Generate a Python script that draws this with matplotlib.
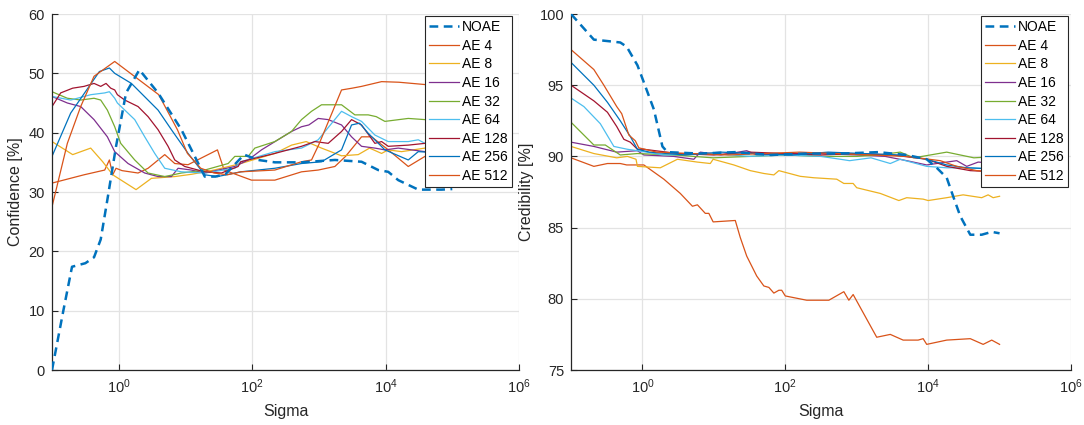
import numpy as np
import matplotlib
matplotlib.use("Agg")
import matplotlib.pyplot as plt
from matplotlib.ticker import NullLocator, FixedLocator

plt.rcParams['font.family'] = ['Liberation Sans', 'DejaVu Sans']
plt.rcParams['mathtext.default'] = 'regular'

labels = ["NOAE", "AE 4", "AE 8", "AE 16", "AE 32", "AE 64", "AE 128", "AE 256", "AE 512"]
colors = ["#0072BD", "#D95319", "#EDB120", "#7E2F8E", "#77AC30", "#4DBEEE", "#A2142F", "#0072BD", "#D95319"]

# ---- Confidence (left) : log10(sigma) and values ----
conf_noae_L = [-1, -0.83, -0.7, -0.5, -0.37, -0.27, -0.17, -0.04, 0.11, 0.31, 0.59, 0.94, 1.14, 1.29, 1.45, 1.6, 1.88, 2.09, 2.34, 2.74, 3.24, 3.64, 3.89, 4.04, 4.19, 4.49, 4.84, 5.0]
conf_noae = [0, 10, 17.4, 18, 19, 22, 28.7, 37.7, 46.7, 50.6, 46.7, 40.5, 36, 32.6, 32.6, 33.0, 36.3, 35.4, 35.0, 35.0, 35.4, 35.1, 33.7, 33.4, 32, 30.4, 30.4, 30.5]

conf_ae4_L = [-1, -0.52, -0.21, -0.14, -0.09, -0.04, 0.05, 0.29, 0.44, 0.69, 0.84, 1.04, 1.48, 1.58, 1.99, 2.34, 2.74, 2.99, 3.24, 3.4, 3.64, 3.79, 4.04, 4.34, 4.59, 5.0]
conf_ae4 = [31.5, 32.9, 33.7, 35.4, 32.9, 34, 33.6, 33.2, 34, 36.3, 34.8, 34.6, 37.1, 33.7, 32.0, 32.0, 33.4, 33.7, 34.3, 36, 39.3, 39.3, 37.1, 34.3, 36, 37]

conf_ae8_L = [-1, -0.69, -0.42, -0.24, -0.09, 0.26, 0.49, 0.84, 1.1, 1.43, 1.83, 2.34, 2.59, 2.81, 3.04, 3.34, 3.59, 3.76, 3.94, 4.04, 4.24, 4.59, 5.0]
conf_ae8 = [38.5, 36.3, 37.4, 35.1, 32.9, 30.4, 32.3, 32.6, 33.0, 33.7, 34.8, 36.5, 37.9, 38.5, 37.4, 36.1, 36.3, 37.4, 36.5, 37.1, 36.8, 37.4, 37.8]

conf_ae16_L = [-1, -0.77, -0.57, -0.37, -0.17, -0.06, 0.14, 0.39, 0.59, 0.79, 0.89, 1.09, 1.29, 1.74, 1.94, 2.14, 2.59, 2.74, 2.85, 2.99, 3.14, 3.34, 3.49, 3.64, 3.84, 3.99, 4.19, 4.59, 5.0]
conf_ae16 = [46.1, 45, 44.4, 42.2, 39.3, 36.8, 34.8, 33.2, 32.6, 32.6, 34, 33.7, 33.2, 34.3, 35.4, 37.1, 40.2, 41.0, 41.3, 42.4, 42.2, 41.3, 39.3, 37.7, 37.4, 37.1, 37.4, 36.8, 36.5]

conf_ae32_L = [-1, -0.77, -0.57, -0.37, -0.27, -0.17, -0.06, 0.03, 0.24, 0.44, 0.69, 0.94, 1.29, 1.64, 1.74, 1.94, 2.04, 2.34, 2.59, 2.74, 2.89, 3.04, 3.34, 3.54, 3.74, 3.86, 3.99, 4.34, 4.59, 5.0]
conf_ae32 = [46.9, 45.8, 45.5, 45.8, 45.5, 43.8, 41, 38.2, 35.4, 33.2, 32.6, 33.2, 33.7, 34.8, 36, 36, 37.4, 38.5, 40.2, 42.2, 43.6, 44.7, 44.7, 43, 43, 42.7, 41.9, 42.4, 42.2, 42.0]

conf_ae64_L = [-1, -0.72, -0.42, -0.21, -0.14, -0.06, -0.02, 0.24, 0.39, 0.54, 0.69, 0.94, 1.29, 1.74, 1.83, 2.34, 2.74, 2.99, 3.34, 3.49, 3.64, 3.84, 4.04, 4.34, 4.49, 4.59, 5.0]
conf_ae64 = [46.1, 45.5, 46.4, 46.7, 46.9, 45.8, 45, 42.2, 39.3, 36.5, 34, 33.4, 33.2, 34, 35.1, 36.8, 37.4, 38.8, 43.6, 42.7, 41.9, 39.6, 38.5, 38.5, 38.8, 38.2, 38.0]

conf_ae128_L = [-1, -0.87, -0.69, -0.52, -0.37, -0.27, -0.19, -0.12, -0.06, -0.02, 0.09, 0.29, 0.44, 0.59, 0.74, 0.84, 0.99, 1.29, 1.54, 1.79, 1.83, 2.34, 2.74, 2.94, 3.14, 3.34, 3.49, 3.64, 3.84, 3.94, 4.04, 4.34, 4.59, 5.0]
conf_ae128 = [44.4, 46.7, 47.5, 47.8, 48.3, 47.8, 48.3, 47.5, 47.2, 46.4, 45.5, 44.4, 42.7, 40.5, 37.7, 35.4, 34.3, 33.4, 33.2, 34.3, 35.1, 36.5, 37.7, 38.5, 38.2, 40.2, 42.2, 41.3, 38.2, 38.5, 37.7, 37.9, 38.2, 38.0]

conf_ae256_L = [-1, -0.72, -0.29, -0.14, -0.06, 0.19, 0.59, 0.79, 1.04, 1.29, 1.48, 1.83, 2.34, 2.74, 3.04, 3.34, 3.49, 3.61, 3.74, 3.99, 4.34, 4.49, 5.0]
conf_ae256 = [36, 43.3, 50.3, 50.9, 50, 48.3, 43.8, 40.5, 36.5, 32.9, 32.6, 33.4, 34, 34.8, 35.1, 37.1, 41.3, 41.6, 39.9, 37.1, 35.4, 36.8, 36.5]

conf_ae512_L = [-1, -0.77, -0.57, -0.37, -0.06, 0.6, 0.88, 1.03, 1.23, 1.43, 1.63, 1.83, 2.34, 2.74, 2.89, 3.0, 3.34, 3.5, 3.64, 3.94, 4.2, 4.6, 5.0]
conf_ae512 = [27.5, 38.2, 44.4, 49.5, 52, 46.4, 40.5, 36.5, 34, 33.2, 32.9, 33.4, 33.7, 35.1, 35.4, 38, 47.2, 47.5, 47.8, 48.6, 48.5, 48.1, 48.0]

# ---- Credibility (right) ----
cred_noae_L = [-1, -0.68, -0.49, -0.31, -0.22, -0.07, 0.02, 0.16, 0.28, 0.35, 0.8, 1.3, 1.8, 2.3, 2.8, 3.3, 3.7, 3.98, 4.12, 4.26, 4.35, 4.45, 4.59, 4.75, 4.89, 5.0]
cred_noae = [100, 98.2, 98.1, 98.0, 97.7, 96.4, 95.2, 93.3, 90.7, 90.3, 90.2, 90.3, 90.1, 90.2, 90.2, 90.3, 90.1, 89.8, 89.2, 88.5, 87.2, 85.8, 84.5, 84.5, 84.7, 84.6]

cred_ae4_L = [-1, -0.68, -0.49, -0.31, -0.22, 0.02, 0.3, 0.53, 0.70, 0.77, 0.88, 0.93, 0.99, 1.30, 1.37, 1.46, 1.60, 1.70, 1.77, 1.84, 1.91, 1.95, 2.0, 2.30, 2.61, 2.82, 2.89, 2.95, 3.28, 3.47, 3.65, 3.86, 3.93, 3.98, 4.26, 4.59, 4.77, 4.89, 5.0]
cred_ae4 = [89.9, 89.3, 89.5, 89.5, 89.4, 89.4, 88.4, 87.4, 86.5, 86.6, 86.0, 86.0, 85.4, 85.5, 84.3, 83.0, 81.6, 80.9, 80.8, 80.4, 80.6, 80.6, 80.2, 79.9, 79.9, 80.5, 79.9, 80.3, 77.3, 77.5, 77.1, 77.1, 77.2, 76.8, 77.1, 77.2, 76.8, 77.1, 76.8]

cred_ae8_L = [-1, -0.68, -0.36, -0.21, -0.09, -0.07, 0.25, 0.49, 0.77, 0.95, 0.99, 1.28, 1.51, 1.70, 1.84, 1.91, 2.21, 2.40, 2.72, 2.82, 2.95, 3.0, 3.33, 3.59, 3.70, 3.93, 4.0, 4.26, 4.49, 4.75, 4.84, 4.91, 5.0]
cred_ae8 = [90.7, 90.2, 89.9, 90.0, 89.8, 89.3, 89.2, 89.8, 89.6, 89.5, 89.8, 89.4, 89.0, 88.8, 88.7, 89.0, 88.6, 88.5, 88.4, 88.1, 88.1, 87.8, 87.4, 86.9, 87.1, 87.0, 86.9, 87.1, 87.3, 87.1, 87.3, 87.1, 87.2]

cred_ae16_L = [-1, -0.68, -0.36, -0.07, 0.02, 0.44, 0.72, 0.81, 1.1, 1.46, 1.6, 2.0, 2.5, 3.0, 3.4, 3.70, 3.98, 4.40, 4.54, 4.7, 5.0]
cred_ae16 = [91.0, 90.7, 90.3, 90.4, 90.1, 90.0, 89.8, 90.3, 90.1, 90.4, 90.1, 90.2, 90.2, 90.1, 90.0, 89.7, 89.4, 89.7, 89.3, 89.6, 89.5]

cred_ae32_L = [-1, -0.68, -0.52, -0.31, -0.07, 0.44, 0.99, 1.5, 2.0, 2.5, 3.0, 3.3, 3.61, 3.8, 4.26, 4.64, 5.0]
cred_ae32 = [92.4, 90.8, 90.8, 90.1, 90.2, 90.1, 89.9, 90.0, 90.1, 90.0, 90.0, 90.1, 90.3, 89.9, 90.3, 89.9, 90.0]

cred_ae64_L = [-1, -0.82, -0.59, -0.40, -0.21, -0.07, 0.3, 1.0, 1.5, 2.0, 2.5, 2.77, 2.9, 3.2, 3.47, 3.61, 3.98, 4.26, 4.59, 5.0]
cred_ae64 = [94.1, 93.5, 92.3, 90.7, 90.5, 90.4, 90.1, 90.2, 90.0, 90.1, 90.0, 89.8, 89.7, 89.9, 89.5, 89.8, 89.3, 89.2, 89.2, 89.1]

cred_ae128_L = [-1, -0.68, -0.49, -0.36, -0.26, -0.17, -0.07, 0.02, 0.5, 1.0, 1.5, 2.0, 2.5, 3.0, 3.5, 3.98, 4.26, 4.59, 5.0]
cred_ae128 = [95.0, 93.9, 93.1, 92.1, 91.2, 91.0, 90.5, 90.5, 90.2, 90.1, 90.3, 90.2, 90.1, 90.2, 90.1, 89.8, 89.3, 89.0, 88.9]

cred_ae256_L = [-1, -0.68, -0.49, -0.31, -0.17, -0.07, 0.1, 0.6, 1.1, 1.6, 2.1, 2.6, 3.1, 3.6, 3.98, 4.26, 4.54, 5.0]
cred_ae256 = [96.6, 95.0, 93.8, 92.5, 91.4, 90.5, 90.3, 90.1, 90.3, 90.2, 90.1, 90.3, 90.2, 90.1, 89.8, 89.4, 89.2, 89.1]

cred_ae512_L = [-1, -0.68, -0.54, -0.36, -0.29, -0.19, -0.10, -0.05, 0.2, 0.7, 1.2, 1.7, 2.2, 2.7, 3.2, 3.7, 4.17, 4.40, 4.68, 5.0]
cred_ae512 = [97.5, 96.1, 95.0, 93.5, 93.0, 91.5, 91.1, 90.6, 90.3, 90.2, 90.1, 90.2, 90.3, 90.2, 90.1, 90.0, 89.7, 89.3, 89.0, 88.9]

conf_series = [(conf_noae_L, conf_noae), (conf_ae4_L, conf_ae4), (conf_ae8_L, conf_ae8),
               (conf_ae16_L, conf_ae16), (conf_ae32_L, conf_ae32), (conf_ae64_L, conf_ae64),
               (conf_ae128_L, conf_ae128), (conf_ae256_L, conf_ae256), (conf_ae512_L, conf_ae512)]
cred_series = [(cred_noae_L, cred_noae), (cred_ae4_L, cred_ae4), (cred_ae8_L, cred_ae8),
               (cred_ae16_L, cred_ae16), (cred_ae32_L, cred_ae32), (cred_ae64_L, cred_ae64),
               (cred_ae128_L, cred_ae128), (cred_ae256_L, cred_ae256), (cred_ae512_L, cred_ae512)]

W, H = 1084, 425
fig = plt.figure(figsize=(W / 100, H / 100), dpi=100)
ax1 = fig.add_axes([52 / W, 1 - 370 / H, 467 / W, 356 / H])
ax2 = fig.add_axes([571 / W, 1 - 370 / H, 500 / W, 356 / H])

axcol = "#262626"

def style(ax, series, ylim, yticks, ylabel, leg_right_px):
    for i, ((L, v), lab, c) in enumerate(zip(series, labels, colors)):
        x = 10.0 ** np.array(L)
        if i == 0:
            ax.plot(x, v, color=c, lw=1.8, ls=(0, (3.5, 2.2)), label=lab, zorder=3)
        else:
            ax.plot(x, v, color=c, lw=0.9, label=lab, zorder=2)
    ax.set_xscale('log')
    ax.set_xlim(0.1, 1e6)
    ax.set_ylim(*ylim)
    ax.xaxis.set_major_locator(FixedLocator([1, 1e2, 1e4, 1e6]))
    ax.xaxis.set_minor_locator(NullLocator())
    ax.set_yticks(yticks)
    ax.grid(True, color="#e3e3e3", lw=0.9, zorder=0)
    ax.set_axisbelow(True)
    for s in ['top', 'right']:
        ax.spines[s].set_visible(False)
    for s in ['left', 'bottom']:
        ax.spines[s].set_color(axcol)
        ax.spines[s].set_linewidth(0.9)
    ax.tick_params(direction='in', length=4, width=0.8, colors=axcol, labelsize=10.5, pad=5)
    ax.set_xlabel("Sigma", fontsize=11.5, color=axcol, labelpad=6)
    ax.set_ylabel(ylabel, fontsize=11.5, color=axcol, labelpad=4)
    leg = ax.legend(loc='upper right', bbox_to_anchor=(leg_right_px / W, 1 - 16 / H),
                    bbox_transform=fig.transFigure,
                    fontsize=10, fancybox=False, framealpha=1,
                    edgecolor=axcol, handlelength=2.1, handletextpad=0.25,
                    labelspacing=0.33, borderpad=0.3, borderaxespad=0)
    leg.get_frame().set_linewidth(0.8)
    leg.set_zorder(10)

style(ax1, conf_series, (0, 60), [0, 10, 20, 30, 40, 50, 60], "Confidence [%]", 512)
style(ax2, cred_series, (75, 100), [75, 80, 85, 90, 95, 100], "Credibility [%]", 1068)

fig.savefig("out.png", dpi=100)
